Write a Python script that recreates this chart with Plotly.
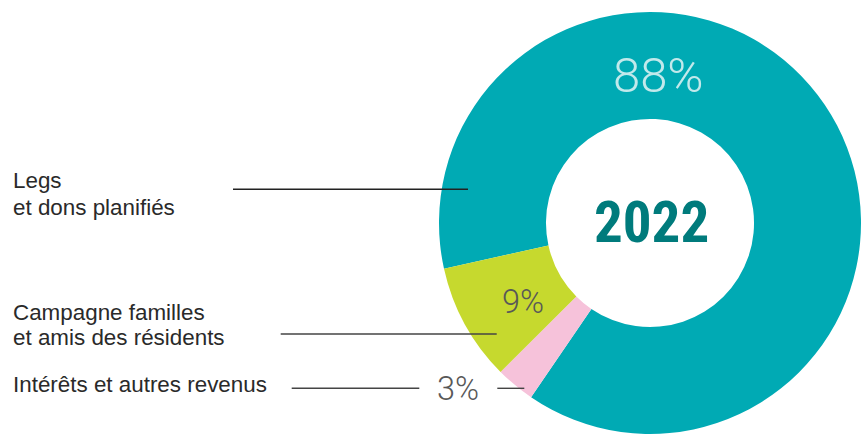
import plotly.graph_objects as go

# ---- data ----
categories = ["Legs et dons planifiés", "Intérêts et autres revenus", "Campagne familles et amis des résidents"]
values = [88, 3, 9]
value_labels = ["88%", "3%", "9%"]
colors = ["#00AAB4", "#F6C2DA", "#C6D92E"]
label_lines = [["Legs", "et dons planifiés"],
               ["Intérêts et autres revenus"],
               ["Campagne familles", "et amis des résidents"]]
center_label = "2022"

W, H = 861, 434

def px(x):
    return x / W

def py(y):
    return 1 - y / H

fig = go.Figure()
fig.add_trace(go.Pie(
    labels=categories,
    values=values,
    marker=dict(colors=colors, line=dict(width=0)),
    hole=0.493,
    sort=False,
    direction="clockwise",
    rotation=-102.5,
    textinfo="none",
    hoverinfo="label+percent",
    domain=dict(x=[px(439), 1.0], y=[0.0, 0.9724]),
    showlegend=False,
))

ann = []
label_font = dict(family="Liberation Sans, Arial, sans-serif", size=22.4, color="#2a2a2a")
# category labels on the left (one annotation per line)
line_centers = [[180.7, 207.4], [384.7], [312.4, 337.4]]
for lines, ys in zip(label_lines, line_centers):
    for t, y in zip(lines, ys):
        ann.append(dict(text=t, x=px(12), y=py(y), xref="paper", yref="paper",
                        xanchor="left", yanchor="middle", showarrow=False,
                        font=label_font, borderpad=0))

# percentage labels
pct_pos = [(658.3, 75.3, 49, "#C2E9EB"), (458.2, 389.0, 32.5, "#585858"), (523.0, 301.7, 32.5, "#585858")]
for t, (x, y, s, c) in zip(value_labels, pct_pos):
    ann.append(dict(text=t, x=px(x), y=py(y), xref="paper", yref="paper",
                    xanchor="center", yanchor="middle", showarrow=False, borderpad=0,
                    font=dict(family="Roboto, Liberation Sans, sans-serif", size=s, color=c, weight=300)))

# centre year
ann.append(dict(text=center_label, x=px(651), y=py(222), xref="paper", yref="paper",
                xanchor="center", yanchor="middle", showarrow=False, borderpad=0,
                font=dict(family="Liberation Sans Narrow, Noto Sans ExtraCondensed, Noto Sans Condensed, Roboto Condensed, DejaVu Sans Condensed, sans-serif",
                          size=57, color="#007B7C", weight="bold")))

# leader lines
segs = [((233, 189.3), (468, 189.3), "#222222"),
        ((280.7, 334), (496.7, 334), "#444444"),
        ((291.7, 388.3), (419.3, 388.3), "#444444"),
        ((497.3, 388.3), (524.3, 388.3), "#444444")]
shapes = []
for (x0, y0), (x1, y1), c in segs:
    shapes.append(dict(type="line", xref="paper", yref="paper",
                       x0=px(x0), y0=py(y0), x1=px(x1), y1=py(y1),
                       line=dict(color=c, width=1.4)))

fig.update_layout(
    width=W, height=H,
    margin=dict(l=0, r=0, t=0, b=0),
    paper_bgcolor="white", plot_bgcolor="white",
    annotations=ann, shapes=shapes,
)

fig.write_html("out.html", config={"displayModeBar": False},
               post_script="document.body.style.margin='0';")
